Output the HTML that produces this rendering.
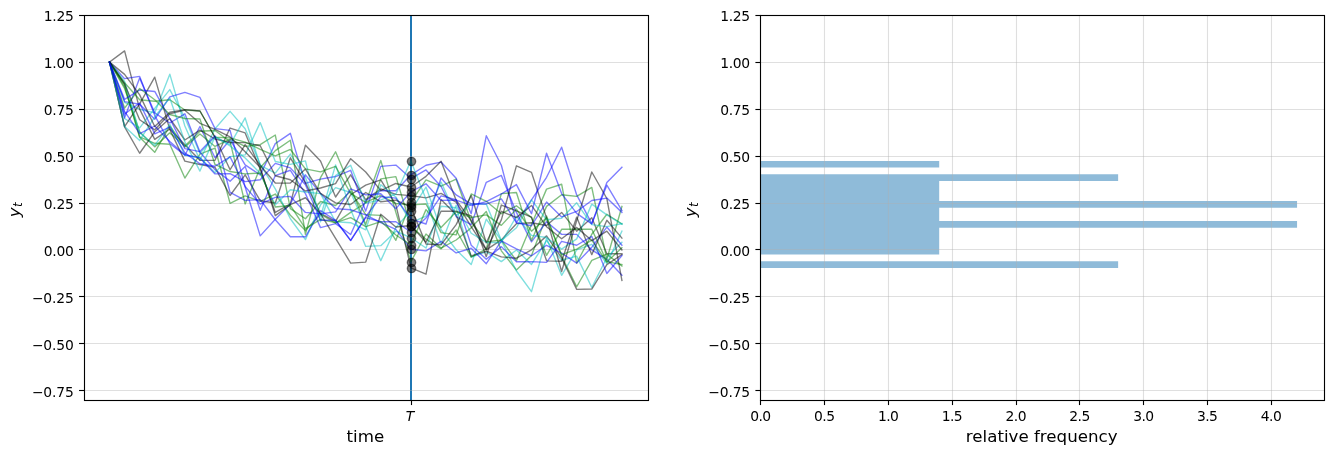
<!DOCTYPE html>
<html><head><meta charset="utf-8"><title>cross-section plot</title>
<style>html,body{margin:0;padding:0;background:#fff}svg{display:block}text{font-family:"DejaVu Sans","Liberation Sans",sans-serif;fill:#000}.tk{font-size:13.889px}.lb{font-size:16.667px}.it{font-style:oblique}</style></head><body>
<svg width="1333" height="454" viewBox="0 0 1333 454">
<rect width="1333" height="454" fill="#fff"/>
<defs><clipPath id="cl"><rect x="84.50" y="15.20" width="563.64" height="385.00"/></clipPath><clipPath id="cr"><rect x="760.86" y="15.20" width="563.64" height="385.00"/></clipPath></defs>
<g clip-path="url(#cl)">
<line x1="411.00" x2="411.00" y1="15.20" y2="400.20" stroke="#1f77b4" stroke-width="2.0"/>
<g stroke="#b0b0b0" stroke-opacity="0.4" stroke-width="1.111">
<line x1="84.50" x2="648.14" y1="15.5" y2="15.5"/>
<line x1="84.50" x2="648.14" y1="62.5" y2="62.5"/>
<line x1="84.50" x2="648.14" y1="109.5" y2="109.5"/>
<line x1="84.50" x2="648.14" y1="156.5" y2="156.5"/>
<line x1="84.50" x2="648.14" y1="203.5" y2="203.5"/>
<line x1="84.50" x2="648.14" y1="249.5" y2="249.5"/>
<line x1="84.50" x2="648.14" y1="296.5" y2="296.5"/>
<line x1="84.50" x2="648.14" y1="343.5" y2="343.5"/>
<line x1="84.50" x2="648.14" y1="390.5" y2="390.5"/>
</g>
<g fill="none" stroke-width="1.389" stroke-opacity="0.5" stroke-linejoin="round" stroke-linecap="square">
<polyline stroke="#008000" points="109.52,62.15 124.59,84.69 139.66,136.90 154.73,143.28 169.80,144.22 184.87,178.03 199.94,154.18 215.01,148.03 230.08,203.38 245.15,195.87 260.22,201.29 275.30,194.02 290.37,215.27 305.44,230.42 320.51,214.27 335.58,223.18 350.65,212.40 365.72,203.00 380.79,160.56 395.86,212.40 410.93,261.60 426.00,233.99 441.07,248.08 456.14,240.00 471.21,227.84 486.28,211.56 501.35,250.84 516.42,270.05 531.49,255.59 546.56,215.90 561.63,256.15 576.70,286.77 591.78,260.29 606.85,254.09 621.92,266.11"/>
<polyline stroke="#00bfbf" points="109.52,62.15 124.59,102.34 139.66,109.29 154.73,112.86 169.80,74.17 184.87,126.00 199.94,160.31 215.01,128.82 230.08,111.36 245.15,128.82 260.22,164.50 275.30,188.92 290.37,218.78 305.44,239.63 320.51,204.88 335.58,187.65 350.65,192.48 365.72,226.29 380.79,260.66 395.86,227.42 410.93,210.52 426.00,187.04 441.07,229.67 456.14,249.77 471.21,264.60 486.28,219.16 501.35,240.57 516.42,270.99 531.49,291.65 546.56,238.12 561.63,275.31 576.70,249.96 591.78,244.32 606.85,263.67 621.92,231.18"/>
<polyline stroke="#000000" points="109.52,62.15 124.59,50.88 139.66,109.10 154.73,139.34 169.80,129.01 184.87,144.80 199.94,160.35 215.01,160.31 230.08,128.07 245.15,132.95 260.22,169.20 275.30,212.40 290.37,203.94 305.44,145.16 320.51,160.94 335.58,197.00 350.65,174.83 365.72,199.81 380.79,188.92 395.86,194.37 410.93,195.68 426.00,197.93 441.07,193.43 456.14,202.07 471.21,226.67 486.28,249.82 501.35,239.92 516.42,223.66 531.49,222.72 546.56,225.54 561.63,212.40 576.70,231.18 591.78,217.65 606.85,253.71 621.92,253.71"/>
<polyline stroke="#0000ff" points="109.52,62.15 124.59,78.68 139.66,76.42 154.73,115.30 169.80,143.43 184.87,155.26 199.94,126.55 215.01,157.72 230.08,139.71 245.15,164.91 260.22,174.83 275.30,143.66 290.37,133.33 305.44,183.29 320.51,179.15 335.58,176.52 350.65,170.33 365.72,211.15 380.79,166.38 395.86,165.07 410.93,178.59 426.00,169.95 441.07,186.48 456.14,216.53 471.21,224.60 486.28,182.35 501.35,175.40 516.42,212.40 531.49,241.88 546.56,221.79 561.63,234.37 576.70,234.37 591.78,249.96 606.85,259.35 621.92,275.31"/>
<polyline stroke="#008000" points="109.52,62.15 124.59,86.57 139.66,137.27 154.73,152.30 169.80,126.00 184.87,147.01 199.94,133.94 215.01,146.47 230.08,139.06 245.15,146.34 260.22,144.60 275.30,135.02 290.37,208.64 305.44,218.78 320.51,201.50 335.58,205.50 350.65,191.25 365.72,214.64 380.79,215.35 395.86,240.35 410.93,202.07 426.00,179.84 441.07,186.10 456.14,179.15 471.21,221.79 486.28,241.90 501.35,240.01 516.42,260.67 531.49,224.41 546.56,189.11 561.63,184.22 576.70,263.10 591.78,234.22 606.85,214.27 621.92,223.85"/>
<polyline stroke="#00bfbf" points="109.52,62.15 124.59,118.49 139.66,127.88 154.73,108.35 169.80,89.57 184.87,117.74 199.94,153.38 215.01,136.70 230.08,144.60 245.15,117.93 260.22,165.44 275.30,173.13 290.37,154.09 305.44,177.48 320.51,216.71 335.58,164.88 350.65,209.50 365.72,246.39 380.79,245.64 395.86,231.22 410.93,237.75 426.00,248.05 441.07,206.20 456.14,207.61 471.21,257.09 486.28,251.83 501.35,261.60 516.42,249.96 531.49,264.42 546.56,240.57 561.63,260.28 576.70,256.15 591.78,287.52 606.85,257.47 621.92,242.32"/>
<polyline stroke="#000000" points="109.52,62.15 124.59,126.57 139.66,103.84 154.73,77.18 169.80,129.57 184.87,161.12 199.94,164.50 215.01,167.32 230.08,195.49 245.15,174.83 260.22,200.71 275.30,202.96 290.37,157.78 305.44,182.89 320.51,213.47 335.58,221.36 350.65,194.73 365.72,185.14 380.79,179.94 395.86,204.88 410.93,267.89 426.00,274.18 441.07,199.44 456.14,214.65 471.21,256.00 486.28,251.18 501.35,256.92 516.42,258.22 531.49,249.77 546.56,235.87 561.63,257.84 576.70,289.40 591.78,289.02 606.85,264.60 621.92,254.65"/>
<polyline stroke="#0000ff" points="109.52,62.15 124.59,117.74 139.66,78.11 154.73,112.86 169.80,123.01 184.87,113.81 199.94,152.12 215.01,169.74 230.08,181.17 245.15,166.38 260.22,210.33 275.30,175.59 290.37,170.26 305.44,193.61 320.51,227.61 335.58,223.66 350.65,234.56 365.72,200.78 380.79,190.68 395.86,190.73 410.93,174.83 426.00,165.26 441.07,162.06 456.14,178.21 471.21,213.71 486.28,135.77 501.35,165.26 516.42,222.54 531.49,199.81 546.56,177.28 561.63,147.23 576.70,194.93 591.78,223.66 606.85,182.53 621.92,167.32"/>
<polyline stroke="#008000" points="109.52,62.15 124.59,88.44 139.66,131.64 154.73,146.88 169.80,132.86 184.87,146.10 199.94,131.23 215.01,130.54 230.08,141.66 245.15,203.94 260.22,167.83 275.30,150.61 290.37,140.28 305.44,234.37 320.51,177.65 335.58,151.73 350.65,187.60 365.72,224.46 380.79,178.85 395.86,176.61 410.93,226.48 426.00,239.18 441.07,248.83 456.14,230.03 471.21,257.11 486.28,248.83 501.35,193.61 516.42,192.49 531.49,240.57 546.56,206.37 561.63,194.80 576.70,196.43 591.78,187.42 606.85,259.35 621.92,206.39"/>
<polyline stroke="#00bfbf" points="109.52,62.15 124.59,81.35 139.66,132.72 154.73,145.35 169.80,124.43 184.87,155.25 199.94,157.54 215.01,172.78 230.08,156.59 245.15,154.93 260.22,122.62 275.30,161.50 290.37,164.32 305.44,160.94 320.51,221.79 335.58,175.55 350.65,165.26 365.72,203.19 380.79,199.86 395.86,194.18 410.93,160.90 426.00,199.25 441.07,244.25 456.14,205.25 471.21,233.25 486.28,242.44 501.35,242.44 516.42,216.25 531.49,235.38 546.56,237.48 561.63,249.11 576.70,238.90 591.78,204.13 606.85,214.84 621.92,224.23"/>
<polyline stroke="#000000" points="109.52,62.15 124.59,126.94 139.66,153.24 154.73,131.83 169.80,118.49 184.87,139.99 199.94,130.06 215.01,138.99 230.08,142.55 245.15,142.57 260.22,145.72 275.30,175.77 290.37,179.72 305.44,190.99 320.51,187.98 335.58,183.66 350.65,158.68 365.72,172.02 380.79,190.61 395.86,183.47 410.93,187.04 426.00,176.34 441.07,161.31 456.14,200.19 471.21,220.51 486.28,249.62 501.35,219.91 516.42,165.82 531.49,172.39 546.56,218.03 561.63,271.55 576.70,220.66 591.78,172.02 606.85,198.50 621.92,280.38"/>
<polyline stroke="#0000ff" points="109.52,62.15 124.59,101.59 139.66,104.22 154.73,119.24 169.80,96.90 184.87,92.39 199.94,97.46 215.01,128.63 230.08,130.32 245.15,187.04 260.22,235.87 275.30,219.34 290.37,203.94 305.44,174.83 320.51,193.61 335.58,208.64 350.65,209.77 365.72,214.84 380.79,222.72 395.86,229.30 410.93,249.20 426.00,250.90 441.07,241.32 456.14,252.96 471.21,248.27 486.28,263.67 501.35,240.94 516.42,248.83 531.49,255.78 546.56,245.26 561.63,253.15 576.70,263.10 591.78,247.33 606.85,227.04 621.92,245.26"/>
<polyline stroke="#008000" points="109.52,62.15 124.59,82.81 139.66,99.71 154.73,101.29 169.80,99.71 184.87,110.04 199.94,110.98 215.01,137.27 230.08,137.84 245.15,142.16 260.22,149.30 275.30,155.87 290.37,149.48 305.44,168.82 320.51,171.83 335.58,166.38 350.65,193.51 365.72,202.47 380.79,195.50 395.86,203.44 410.93,204.88 426.00,204.05 441.07,232.66 456.14,234.90 471.21,193.99 486.28,201.31 501.35,213.71 516.42,205.82 531.49,217.65 546.56,255.31 561.63,229.30 576.70,229.30 591.78,229.30 606.85,261.60 621.92,264.60"/>
<polyline stroke="#00bfbf" points="109.52,62.15 124.59,126.57 139.66,140.47 154.73,116.76 169.80,98.08 184.87,141.91 199.94,171.08 215.01,136.62 230.08,145.88 245.15,157.98 260.22,173.20 275.30,204.79 290.37,189.70 305.44,191.99 320.51,193.67 335.58,221.81 350.65,222.72 365.72,229.76 380.79,184.82 395.86,196.95 410.93,222.72 426.00,216.06 441.07,182.05 456.14,215.78 471.21,204.13 486.28,204.13 501.35,240.57 516.42,227.82 531.49,199.81 546.56,219.72 561.63,218.22 576.70,202.82 591.78,224.60 606.85,226.67 621.92,223.66"/>
<polyline stroke="#000000" points="109.52,62.15 124.59,83.93 139.66,119.73 154.73,129.81 169.80,113.73 184.87,110.18 199.94,123.27 215.01,129.32 230.08,136.90 245.15,151.75 260.22,167.32 275.30,215.59 290.37,204.70 305.44,197.75 320.51,213.71 335.58,238.31 350.65,263.10 365.72,262.16 380.79,214.27 395.86,227.04 410.93,225.54 426.00,242.28 441.07,211.27 456.14,211.27 471.21,215.82 486.28,256.65 501.35,205.03 516.42,210.82 531.49,217.09 546.56,260.85 561.63,261.22 576.70,217.09 591.78,254.65 606.85,220.28 621.92,238.12"/>
<polyline stroke="#0000ff" points="109.52,62.15 124.59,99.34 139.66,89.95 154.73,91.45 169.80,118.49 184.87,148.67 199.94,151.59 215.01,135.71 230.08,192.49 245.15,200.38 260.22,199.62 275.30,219.72 290.37,236.81 305.44,236.81 320.51,210.70 335.58,220.28 350.65,240.38 365.72,217.65 380.79,221.79 395.86,221.79 410.93,232.11 426.00,218.02 441.07,195.90 456.14,199.61 471.21,245.26 486.28,259.20 501.35,246.62 516.42,261.73 531.49,261.59 546.56,262.35 561.63,241.32 576.70,245.26 591.78,236.43 606.85,273.43 621.92,255.59"/>
<polyline stroke="#008000" points="109.52,62.15 124.59,108.16 139.66,88.44 154.73,99.71 169.80,114.47 184.87,118.49 199.94,119.06 215.01,164.43 230.08,171.52 245.15,173.84 260.22,173.08 275.30,207.00 290.37,205.45 305.44,228.55 320.51,219.46 335.58,222.59 350.65,217.65 365.72,226.65 380.79,221.55 395.86,234.99 410.93,244.89 426.00,209.63 441.07,227.47 456.14,211.82 471.21,217.48 486.28,214.84 501.35,225.35 516.42,209.11 531.49,231.22 546.56,217.87 561.63,254.73 576.70,249.20 591.78,240.19 606.85,261.98 621.92,247.70"/>
<polyline stroke="#0000ff" points="109.52,62.15 124.59,111.36 139.66,133.52 154.73,126.00 169.80,141.40 184.87,154.74 199.94,157.93 215.01,173.93 230.08,173.71 245.15,181.60 260.22,179.72 275.30,163.38 290.37,167.89 305.44,184.79 320.51,220.28 335.58,220.28 350.65,240.57 365.72,216.78 380.79,196.60 395.86,198.14 410.93,219.16 426.00,224.03 441.07,177.97 456.14,194.93 471.21,203.88 486.28,203.94 501.35,198.87 516.42,222.72 531.49,225.73 546.56,202.07 561.63,216.90 576.70,211.46 591.78,200.56 606.85,198.12 621.92,212.40"/>
<polyline stroke="#000000" points="109.52,62.15 124.59,74.36 139.66,94.83 154.73,126.57 169.80,112.30 184.87,109.67 199.94,110.98 215.01,137.27 230.08,169.76 245.15,144.60 260.22,165.44 275.30,183.01 290.37,183.10 305.44,169.11 320.51,193.34 335.58,202.82 350.65,204.55 365.72,192.48 380.79,201.79 395.86,200.10 410.93,207.14 426.00,244.01 441.07,244.75 456.14,224.60 471.21,195.49 486.28,242.82 501.35,211.27 516.42,217.65 531.49,205.45 546.56,226.67 561.63,238.69 576.70,227.42 591.78,240.57 606.85,231.18 621.92,249.96"/>
<polyline stroke="#0000ff" points="109.52,62.15 124.59,114.03 139.66,103.11 154.73,133.89 169.80,127.02 184.87,152.86 199.94,163.71 215.01,166.24 230.08,156.86 245.15,186.53 260.22,204.15 275.30,197.37 290.37,196.43 305.44,212.40 320.51,213.90 335.58,211.83 350.65,188.92 365.72,194.93 380.79,193.80 395.86,208.64 410.93,191.74 426.00,183.82 441.07,200.38 456.14,200.05 471.21,205.46 486.28,201.66 501.35,193.98 516.42,184.60 531.49,213.71 546.56,153.24 561.63,193.61 576.70,213.33 591.78,223.85 606.85,185.16 621.92,210.52"/>
</g>
<g fill="#000" fill-opacity="0.5" stroke="#000" stroke-opacity="0.5" stroke-width="1.389">
<circle cx="411.50" cy="262.50" r="4.167"/>
<circle cx="411.50" cy="211.50" r="4.167"/>
<circle cx="411.50" cy="196.50" r="4.167"/>
<circle cx="411.50" cy="179.50" r="4.167"/>
<circle cx="411.50" cy="202.50" r="4.167"/>
<circle cx="411.50" cy="238.50" r="4.167"/>
<circle cx="411.50" cy="268.50" r="4.167"/>
<circle cx="411.50" cy="175.50" r="4.167"/>
<circle cx="411.50" cy="226.50" r="4.167"/>
<circle cx="411.50" cy="161.50" r="4.167"/>
<circle cx="411.50" cy="187.50" r="4.167"/>
<circle cx="411.50" cy="249.50" r="4.167"/>
<circle cx="411.50" cy="205.50" r="4.167"/>
<circle cx="411.50" cy="223.50" r="4.167"/>
<circle cx="411.50" cy="226.50" r="4.167"/>
<circle cx="411.50" cy="232.50" r="4.167"/>
<circle cx="411.50" cy="245.50" r="4.167"/>
<circle cx="411.50" cy="219.50" r="4.167"/>
<circle cx="411.50" cy="207.50" r="4.167"/>
<circle cx="411.50" cy="192.50" r="4.167"/>
</g>
</g>
<g stroke="#000" stroke-width="1.111" fill="none" stroke-linecap="square">
<rect x="84.5" y="15.5" width="564.0" height="385.0"/>
</g>
<g stroke="#000" stroke-width="1.111">
<line x1="79.05" x2="84.50" y1="15.5" y2="15.5"/>
<line x1="79.05" x2="84.50" y1="62.5" y2="62.5"/>
<line x1="79.05" x2="84.50" y1="109.5" y2="109.5"/>
<line x1="79.05" x2="84.50" y1="156.5" y2="156.5"/>
<line x1="79.05" x2="84.50" y1="203.5" y2="203.5"/>
<line x1="79.05" x2="84.50" y1="249.5" y2="249.5"/>
<line x1="79.05" x2="84.50" y1="296.5" y2="296.5"/>
<line x1="79.05" x2="84.50" y1="343.5" y2="343.5"/>
<line x1="79.05" x2="84.50" y1="390.5" y2="390.5"/>
</g>
<g class="tk" text-anchor="end" letter-spacing="-0.3">
<text x="73.48" y="21.15">1.25</text>
<text x="73.48" y="68.10">1.00</text>
<text x="73.48" y="115.05">0.75</text>
<text x="73.48" y="162.00">0.50</text>
<text x="73.48" y="208.95">0.25</text>
<text x="73.48" y="255.91">0.00</text>
<text x="73.68" y="302.86" letter-spacing="-0.15">−0.25</text>
<text x="73.68" y="349.81" letter-spacing="-0.15">−0.50</text>
<text x="73.68" y="396.76" letter-spacing="-0.15">−0.75</text>
</g>
<text class="lb it" transform="translate(20.00,209.90) rotate(-90)" text-anchor="middle"><tspan>y</tspan><tspan dx="0.4" dy="2.1" font-size="11.667px">t</tspan></text>
<line x1="411.5" x2="411.5" y1="400.20" y2="405.06" stroke="#000" stroke-width="1.111"/>
<text class="tk it" text-anchor="middle" x="410.00" y="420.90">T</text>
<text class="lb" text-anchor="middle" x="365.42" y="441.90">time</text>
<g clip-path="url(#cr)">
<path d="M760.26,267.90 L1118.13,267.90 L1118.13,261.21 L760.26,261.21 L760.26,254.52 L939.20,254.53 L939.20,247.84 L939.20,247.84 L939.20,241.15 L939.20,241.15 L939.20,234.46 L939.20,234.46 L939.20,227.78 L1297.06,227.78 L1297.06,221.09 L939.20,221.09 L939.20,214.40 L939.20,214.40 L939.20,207.71 L1297.06,207.71 L1297.06,201.03 L939.20,201.03 L939.20,194.34 L939.20,194.34 L939.20,187.65 L939.20,187.65 L939.20,180.96 L1118.13,180.96 L1118.13,174.28 L760.26,174.28 L760.26,167.59 L939.20,167.59 L939.20,160.90 L760.26,160.90 Z" fill="#1f77b4" fill-opacity="0.5"/>
<g stroke="#b0b0b0" stroke-opacity="0.4" stroke-width="1.111">
<line x1="760.86" x2="1324.50" y1="15.5" y2="15.5"/>
<line x1="760.86" x2="1324.50" y1="62.5" y2="62.5"/>
<line x1="760.86" x2="1324.50" y1="109.5" y2="109.5"/>
<line x1="760.86" x2="1324.50" y1="156.5" y2="156.5"/>
<line x1="760.86" x2="1324.50" y1="203.5" y2="203.5"/>
<line x1="760.86" x2="1324.50" y1="249.5" y2="249.5"/>
<line x1="760.86" x2="1324.50" y1="296.5" y2="296.5"/>
<line x1="760.86" x2="1324.50" y1="343.5" y2="343.5"/>
<line x1="760.86" x2="1324.50" y1="390.5" y2="390.5"/>
<line x1="760.5" x2="760.5" y1="15.20" y2="400.20"/>
<line x1="824.5" x2="824.5" y1="15.20" y2="400.20"/>
<line x1="888.5" x2="888.5" y1="15.20" y2="400.20"/>
<line x1="952.5" x2="952.5" y1="15.20" y2="400.20"/>
<line x1="1016.5" x2="1016.5" y1="15.20" y2="400.20"/>
<line x1="1079.5" x2="1079.5" y1="15.20" y2="400.20"/>
<line x1="1143.5" x2="1143.5" y1="15.20" y2="400.20"/>
<line x1="1207.5" x2="1207.5" y1="15.20" y2="400.20"/>
<line x1="1271.5" x2="1271.5" y1="15.20" y2="400.20"/>
</g></g>
<g stroke="#000" stroke-width="1.111" fill="none" stroke-linecap="square">
<rect x="760.5" y="15.5" width="564.0" height="385.0"/>
</g>
<g stroke="#000" stroke-width="1.111">
<line x1="755.41" x2="760.86" y1="15.5" y2="15.5"/>
<line x1="755.41" x2="760.86" y1="62.5" y2="62.5"/>
<line x1="755.41" x2="760.86" y1="109.5" y2="109.5"/>
<line x1="755.41" x2="760.86" y1="156.5" y2="156.5"/>
<line x1="755.41" x2="760.86" y1="203.5" y2="203.5"/>
<line x1="755.41" x2="760.86" y1="249.5" y2="249.5"/>
<line x1="755.41" x2="760.86" y1="296.5" y2="296.5"/>
<line x1="755.41" x2="760.86" y1="343.5" y2="343.5"/>
<line x1="755.41" x2="760.86" y1="390.5" y2="390.5"/>
</g>
<g class="tk" text-anchor="end" letter-spacing="-0.3">
<text x="749.84" y="21.15">1.25</text>
<text x="749.84" y="68.10">1.00</text>
<text x="749.84" y="115.05">0.75</text>
<text x="749.84" y="162.00">0.50</text>
<text x="749.84" y="208.95">0.25</text>
<text x="749.84" y="255.91">0.00</text>
<text x="750.04" y="302.86" letter-spacing="-0.15">−0.25</text>
<text x="750.04" y="349.81" letter-spacing="-0.15">−0.50</text>
<text x="750.04" y="396.76" letter-spacing="-0.15">−0.75</text>
</g>
<text class="lb it" transform="translate(696.36,209.90) rotate(-90)" text-anchor="middle"><tspan>y</tspan><tspan dx="0.4" dy="2.1" font-size="11.667px">t</tspan></text>
<g stroke="#000" stroke-width="1.111">
<line x1="760.5" x2="760.5" y1="400.20" y2="405.06"/>
<line x1="824.5" x2="824.5" y1="400.20" y2="405.06"/>
<line x1="888.5" x2="888.5" y1="400.20" y2="405.06"/>
<line x1="952.5" x2="952.5" y1="400.20" y2="405.06"/>
<line x1="1016.5" x2="1016.5" y1="400.20" y2="405.06"/>
<line x1="1079.5" x2="1079.5" y1="400.20" y2="405.06"/>
<line x1="1143.5" x2="1143.5" y1="400.20" y2="405.06"/>
<line x1="1207.5" x2="1207.5" y1="400.20" y2="405.06"/>
<line x1="1271.5" x2="1271.5" y1="400.20" y2="405.06"/>
</g>
<g class="tk" text-anchor="middle" letter-spacing="-0.55">
<text x="760.46" y="421.30">0.0</text>
<text x="824.28" y="421.30">0.5</text>
<text x="888.10" y="421.30">1.0</text>
<text x="951.92" y="421.30">1.5</text>
<text x="1015.74" y="421.30">2.0</text>
<text x="1079.56" y="421.30">2.5</text>
<text x="1143.38" y="421.30">3.0</text>
<text x="1207.20" y="421.30">3.5</text>
<text x="1271.02" y="421.30">4.0</text>
</g>
<text class="lb" text-anchor="middle" x="1041.68" y="441.90">relative frequency</text>
</svg></body></html>
